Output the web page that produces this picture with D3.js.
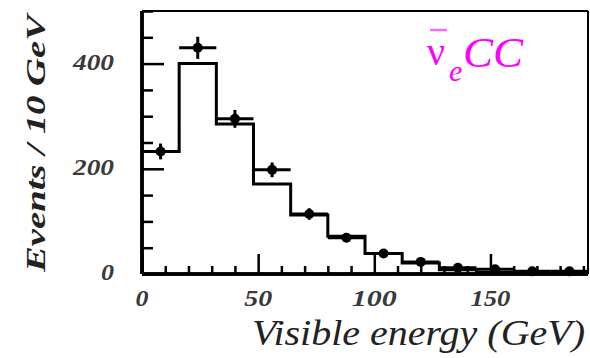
<!DOCTYPE html>
<html><head><meta charset="utf-8">
<script src="https://cdn.jsdelivr.net/npm/d3@7"></script>
<style>html,body{margin:0;padding:0;background:#fff;}svg{display:block;}</style>
</head><body>
<svg id="c" width="590" height="358"></svg>
<script>
// ---- data ----
const binEdges = [0, 16, 32, 48, 64, 80, 96, 112, 128, 144, 160, 176, 192];
const mcEvents = [233, 400, 285, 171, 112, 72, 39, 21, 8, 3, 1, 1];
const dataEnergy = [8, 24, 40, 56, 72, 88, 104, 120, 136, 152, 168, 184];
const dataEvents = [233, 430, 295, 198, 114, 69, 39, 23, 12, 9, 5, 5];
const dataErrors = [15, 21, 17, 14, 11, 8, 6, 5, 4, 3, 2, 2];
const binHalfWidth = [8, 8, 8, 8, 8, 8, 8, 8, 8, 8, 8, 8];
const xMajorTicks = [0, 50, 100, 150];
const xTickLabels = ["0", "50", "100", "150"];
const xMinorTicks = [10, 20, 30, 40, 60, 70, 80, 90, 110, 120, 130, 140, 160, 170, 180, 190];
const yMajorTicks = [0, 200, 400];
const yTickLabels = ["0", "200", "400"];
const yMinorTicks = [50, 100, 150, 250, 300, 350, 450, 500];

const svg = d3.select("#c");
const x = d3.scaleLinear().domain([0, 192]).range([142, 588]);
const y = d3.scaleLinear().domain([0, 500]).range([274, 11]);

// frame (top & right)
svg.append("line").attr("x1", x(0)).attr("x2", x(192)).attr("y1", y(500)).attr("y2", y(500))
  .attr("stroke", "#000").attr("stroke-width", 2);
svg.append("line").attr("x1", x(192)).attr("x2", x(192)).attr("y1", y(500)).attr("y2", y(0))
  .attr("stroke", "#000").attr("stroke-width", 2);

// histogram (MC)
const stepPts = binEdges.map((e, i) => [e, i < mcEvents.length ? mcEvents[i] : mcEvents[mcEvents.length - 1]]);
const line = d3.line().x(d => x(d[0])).y(d => y(d[1])).curve(d3.curveStepAfter);
svg.append("path").attr("d", line(stepPts)).attr("fill", "none")
  .attr("stroke", "#000").attr("stroke-width", 3).attr("stroke-linejoin", "miter");

// data points with error bars
const g = svg.append("g");
dataEnergy.forEach((e, i) => {
  g.append("line").attr("x1", x(e - binHalfWidth[i])).attr("x2", x(e + binHalfWidth[i]))
    .attr("y1", y(dataEvents[i])).attr("y2", y(dataEvents[i]))
    .attr("stroke", "#000").attr("stroke-width", 3);
  g.append("line").attr("x1", x(e)).attr("x2", x(e))
    .attr("y1", y(dataEvents[i] - dataErrors[i])).attr("y2", y(dataEvents[i] + dataErrors[i]))
    .attr("stroke", "#000").attr("stroke-width", 3);
  g.append("circle").attr("cx", x(e)).attr("cy", y(dataEvents[i])).attr("r", 5).attr("fill", "#000");
});

// axes
const xAxisG = svg.append("g").attr("transform", `translate(0,${y(0)})`);
xAxisG.call(d3.axisBottom(x).tickValues(xMajorTicks).tickSize(-20).tickFormat(""));
xAxisG.append("g").call(d3.axisBottom(x).tickValues(xMinorTicks).tickSize(-8).tickFormat(""));
xAxisG.selectAll(".domain").attr("stroke-width", 3.5).attr("d", `M${x(0)},0H${x(192)}`);
xAxisG.selectAll(".tick line").attr("stroke-width", 2.5);

const yAxisG = svg.append("g").attr("transform", `translate(${x(0)},0)`);
yAxisG.call(d3.axisLeft(y).tickValues(yMajorTicks).tickSize(-22).tickFormat(""));
yAxisG.append("g").call(d3.axisLeft(y).tickValues(yMinorTicks).tickSize(-11).tickFormat(""));
yAxisG.selectAll(".domain").attr("stroke-width", 3.5).attr("d", `M0,${y(0)}V${y(500)}`);
yAxisG.selectAll(".tick line").attr("stroke-width", 2.5);

// tick labels
const tickFont = "'Liberation Serif','Times New Roman',serif";
const xLabW = {"0": 13, "50": 28, "100": 45, "150": 40};
xMajorTicks.forEach((v, i) => {
  svg.append("text").attr("x", x(v)).attr("y", 306).attr("text-anchor", "middle")
    .attr("font-family", tickFont).attr("font-style", "italic").attr("font-weight", "bold")
    .attr("font-size", 23).attr("fill", "#3a3a3a")
    .attr("textLength", xLabW[xTickLabels[i]]).attr("lengthAdjust", "spacingAndGlyphs")
    .text(xTickLabels[i]);
});
const yLabW = {"0": 13, "200": 41, "400": 41};
yMajorTicks.forEach((v, i) => {
  svg.append("text").attr("x", 114).attr("y", y(v) + 6).attr("text-anchor", "end")
    .attr("font-family", tickFont).attr("font-style", "italic").attr("font-weight", "bold")
    .attr("font-size", 23).attr("fill", "#3a3a3a")
    .attr("textLength", yLabW[yTickLabels[i]]).attr("lengthAdjust", "spacingAndGlyphs")
    .text(yTickLabels[i]);
});

// axis titles
svg.append("text").attr("x", 252).attr("y", 345)
  .attr("font-family", tickFont).attr("font-style", "italic").attr("font-size", 35)
  .attr("fill", "#222").attr("textLength", 333).attr("lengthAdjust", "spacingAndGlyphs")
  .text("Visible energy (GeV)");
svg.append("text").attr("transform", "translate(45,272) rotate(-90)")
  .attr("font-family", tickFont).attr("font-style", "italic").attr("font-weight", "bold")
  .attr("font-size", 27).attr("fill", "#222")
  .attr("textLength", 257).attr("lengthAdjust", "spacingAndGlyphs")
  .text("Events / 10 GeV");

// label nu-bar_e CC
const lab = svg.append("g").attr("fill", "#ff00ff").attr("font-family", tickFont);
lab.append("text").attr("x", 427).attr("y", 65).attr("font-size", 40).text("ν");
lab.append("line").attr("x1", 430).attr("x2", 447).attr("y1", 30).attr("y2", 30)
  .attr("stroke", "#ff66ff").attr("stroke-width", 2.5);
lab.append("text").attr("x", 449).attr("y", 81).attr("font-size", 30).attr("font-style", "italic").text("e");
lab.append("text").attr("x", 463).attr("y", 67).attr("font-size", 43).attr("font-style", "italic")
  .attr("textLength", 60).attr("lengthAdjust", "spacingAndGlyphs").text("CC");
</script>
</body></html>
